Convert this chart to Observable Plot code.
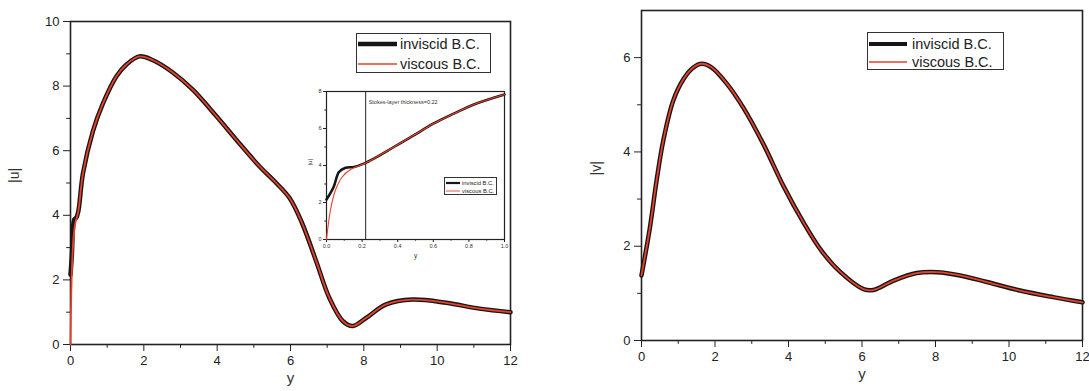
<!DOCTYPE html>
<html>
<head>
<meta charset="utf-8">
<script src="https://cdn.jsdelivr.net/npm/d3@7"></script>
<script src="https://cdn.jsdelivr.net/npm/@observablehq/plot@0.6"></script>
<style>
  body { margin: 0; background: #fff; }
  #wrap { position: relative; width: 1089px; height: 391px; overflow: hidden; background: #fff; font-family: "Liberation Sans", Arial, sans-serif; }
  .pane { position: absolute; }
  .legend { position: absolute; border: 1px solid #333; background: #fff; box-sizing: border-box; color: #222; }
  .legend .row { position: absolute; left: 0; display: flex; align-items: center; white-space: nowrap; }
  .legend svg { display: block; }
</style>
</head>
<body>
<div id="wrap"></div>
<script>
// ---------- data: |u| (left panel) ----------
// near-wall part (y < 0.22), where the two boundary conditions differ
const wallInviscidY = [0, 0.04, 0.07, 0.107, 0.154, 0.21];
const wallInviscidU = [2.16, 2.84, 3.65, 3.88, 3.92, 4.1];
const wallViscousY  = [0, 0.022, 0.05, 0.088, 0.135, 0.21];
const wallViscousU  = [0, 1.58, 2.66, 3.38, 3.78, 4.1];
// outer part (both curves coincide)
const uY   = [0.34, 0.61, 0.88, 1.25, 1.52, 1.88, 2.25, 2.79, 3.34, 3.97, 4.52, 5.15, 5.61, 5.97, 6.3, 6.7, 7.06, 7.43, 7.7, 8.06, 8.61, 9.33, 10.25, 11.15, 12];
const uVal = [5.3, 6.6, 7.45, 8.3, 8.66, 8.92, 8.8, 8.42, 7.88, 7.08, 6.34, 5.52, 5.0, 4.54, 3.8, 2.58, 1.44, 0.72, 0.57, 0.82, 1.24, 1.39, 1.29, 1.11, 1.0];
// inset (zoom of 0 <= y <= 1)
const insetY = [0.21, 0.266, 0.378, 0.49, 0.6, 0.715, 0.828, 1.0];
const insetU = [4.1, 4.37, 5.0, 5.63, 6.26, 6.8, 7.3, 7.84];
const stokesThickness = 0.22;

// ---------- data: |v| (right panel) ----------
const vY   = [0, 0.23, 0.41, 0.59, 0.86, 1.14, 1.41, 1.64, 1.91, 2.32, 2.77, 3.32, 3.86, 4.41, 4.9, 5.4, 6.04, 6.31, 6.86, 7.49, 8.04, 8.67, 9.4, 10.3, 11.2, 12];
const vVal = [1.38, 2.4, 3.39, 4.23, 5.08, 5.54, 5.79, 5.87, 5.79, 5.45, 4.94, 4.16, 3.28, 2.5, 1.9, 1.46, 1.09, 1.07, 1.27, 1.43, 1.45, 1.38, 1.24, 1.06, 0.92, 0.81];

// ---------- tick labels ----------
const xTicksMain = [0, 2, 4, 6, 8, 10, 12];
const xMinorMain = [1, 3, 5, 7, 9, 11];
const uTicks = [0, 2, 4, 6, 8, 10];
const uMinor = [1, 3, 5, 7, 9];
const vTicks = [0, 2, 4, 6];
const vMinor = [1, 3, 5];
const xTicksInset = [0, 0.2, 0.4, 0.6, 0.8, 1.0];
const xMinorInset = [0.1, 0.3, 0.5, 0.7, 0.9];
const uTicksInset = [0, 2, 4, 6, 8];
const uMinorInset = [1, 3, 5, 7];

const seriesNames = ["inviscid B.C.", "viscous B.C."];
const INV = "#161616", VIS = "#e8412b";

const zip = (xs, ys) => xs.map((x, i) => ({x, y: ys[i]}));
const invMain = zip(wallInviscidY, wallInviscidU).concat(zip(uY, uVal));
const visMain = zip(wallViscousY, wallViscousU).concat(zip(uY, uVal));
const invInset = zip(wallInviscidY, wallInviscidU).concat(zip(insetY.slice(1), insetU.slice(1)));
const visInset = zip(wallViscousY, wallViscousU).concat(zip(insetY.slice(1), insetU.slice(1)));
const vData = zip(vY, vVal);

const FONT = "'Liberation Sans', Arial, sans-serif";
const CURVE = "catmull-rom";
const wrap = document.getElementById("wrap");

function place(el, left, top) {
  el.classList.add("pane");
  el.style.left = left + "px";
  el.style.top = top + "px";
  wrap.appendChild(el);
}

function axes(o) {
  return [
    Plot.axisX({ticks: o.xt, tickSize: o.ts, tickPadding: o.tp, fontSize: o.fs, label: null, tickFormat: o.xf, stroke: "#222"}),
    Plot.axisX({ticks: o.xm, tickSize: o.ts * 0.55, text: null, label: null, stroke: "#222"}),
    Plot.axisY({ticks: o.yt, tickSize: o.ts, tickPadding: o.tp, fontSize: o.fs, label: null, tickFormat: d3.format("d"), stroke: "#222"}),
    Plot.axisY({ticks: o.ym, tickSize: o.ts * 0.55, text: null, label: null, stroke: "#222"}),
    Plot.frame({stroke: "#222", strokeWidth: o.fw})
  ];
}

// ---------- left panel ----------
const left = Plot.plot({
  width: 545, height: 391,
  marginLeft: 70, marginRight: 35, marginTop: 21, marginBottom: 47,
  x: {domain: [0, 12]},
  y: {domain: [0, 10]},
  style: {fontFamily: FONT, fontSize: "13px", color: "#222", background: "transparent"},
  marks: [
    ...axes({xt: xTicksMain, xm: xMinorMain, yt: uTicks, ym: uMinor, ts: 7, tp: 4, fs: 13, fw: 1.6, xf: d3.format("d")}),
    Plot.line(invMain, {x: "x", y: "y", stroke: INV, strokeWidth: 4.5, curve: CURVE}),
    Plot.line(visMain, {x: "x", y: "y", stroke: VIS, strokeWidth: 1.8, curve: CURVE}),
    Plot.text(["|u|"], {frameAnchor: "left", dx: -56, rotate: -90, fontSize: 14, fill: "#333"}),
    Plot.text(["y"], {frameAnchor: "bottom", dy: 38, fontSize: 15, fill: "#333"})
  ]
});
place(left, 0, 0);

// ---------- inset ----------
const inset = Plot.plot({
  width: 230, height: 190,
  marginLeft: 26, marginRight: 26, marginTop: 11, marginBottom: 31,
  x: {domain: [0, 1]},
  y: {domain: [0, 8]},
  style: {fontFamily: FONT, fontSize: "6px", color: "#333", background: "transparent"},
  marks: [
    ...axes({xt: xTicksInset, xm: xMinorInset, yt: uTicksInset, ym: uMinorInset, ts: 3, tp: 2, fs: 5.5, fw: 1.2, xf: d3.format(".1f")}),
    Plot.ruleX([stokesThickness], {stroke: "#222", strokeWidth: 1}),
    Plot.text(["Stokes-layer thickness=" + stokesThickness], {x: stokesThickness, frameAnchor: "top", textAnchor: "start", dx: 3, dy: 9, fontSize: 5.5, fill: "#333"}),
    Plot.line(invInset, {x: "x", y: "y", stroke: INV, strokeWidth: 2.6, curve: CURVE}),
    Plot.line(visInset, {x: "x", y: "y", stroke: VIS, strokeWidth: 1.1, curve: CURVE}),
    Plot.text(["|u|"], {frameAnchor: "left", dx: -16, rotate: -90, fontSize: 6, fill: "#333"}),
    Plot.text(["y"], {frameAnchor: "bottom", dy: 18, fontSize: 6.5, fill: "#333"})
  ]
});
place(inset, 300, 80);

// ---------- right panel ----------
const right = Plot.plot({
  width: 529, height: 391,
  marginLeft: 81, marginRight: 7, marginTop: 10, marginBottom: 51,
  x: {domain: [0, 12]},
  y: {domain: [0, 7]},
  style: {fontFamily: FONT, fontSize: "13px", color: "#222", background: "transparent"},
  marks: [
    ...axes({xt: xTicksMain, xm: xMinorMain, yt: vTicks, ym: vMinor, ts: 7, tp: 4, fs: 13, fw: 1.6, xf: d3.format("d")}),
    Plot.line(vData, {x: "x", y: "y", stroke: INV, strokeWidth: 4.5, curve: CURVE}),
    Plot.line(vData, {x: "x", y: "y", stroke: VIS, strokeWidth: 1.8, curve: CURVE}),
    Plot.text(["|v|"], {frameAnchor: "left", dx: -45, rotate: -90, fontSize: 14, fill: "#333"}),
    Plot.text(["y"], {frameAnchor: "bottom", dy: 38, fontSize: 15, fill: "#333"})
  ]
});
place(right, 560, 0);

// ---------- legends ----------
function legend(left, top, w, h, sample, fs, rowYs, widths, gap) {
  const box = document.createElement("div");
  box.className = "legend";
  Object.assign(box.style, {left: left + "px", top: top + "px", width: w + "px", height: h + "px", fontSize: fs + "px"});
  seriesNames.forEach((name, i) => {
    const row = document.createElement("div");
    row.className = "row";
    row.style.top = rowYs[i] + "px";
    row.style.height = "0px";
    const color = i === 0 ? INV : VIS;
    row.innerHTML = `<svg width="${sample + 2}" height="8" style="margin-right:${gap}px;flex:none"><line x1="1" x2="${sample + 1}" y1="4" y2="4" stroke="${color}" stroke-width="${widths[i]}"/></svg><span>${name}</span>`;
    box.appendChild(row);
  });
  wrap.appendChild(box);
}
legend(356, 33, 135, 40, 39, 14.5, [10, 30], [4.5, 1.6], 2);
legend(867, 32, 137, 38, 38, 14.5, [11, 29], [4, 1.6], 4);
legend(444, 177, 53, 18, 14, 5.8, [5, 12.5], [2.2, 0.9], 1);
</script>
</body>
</html>
